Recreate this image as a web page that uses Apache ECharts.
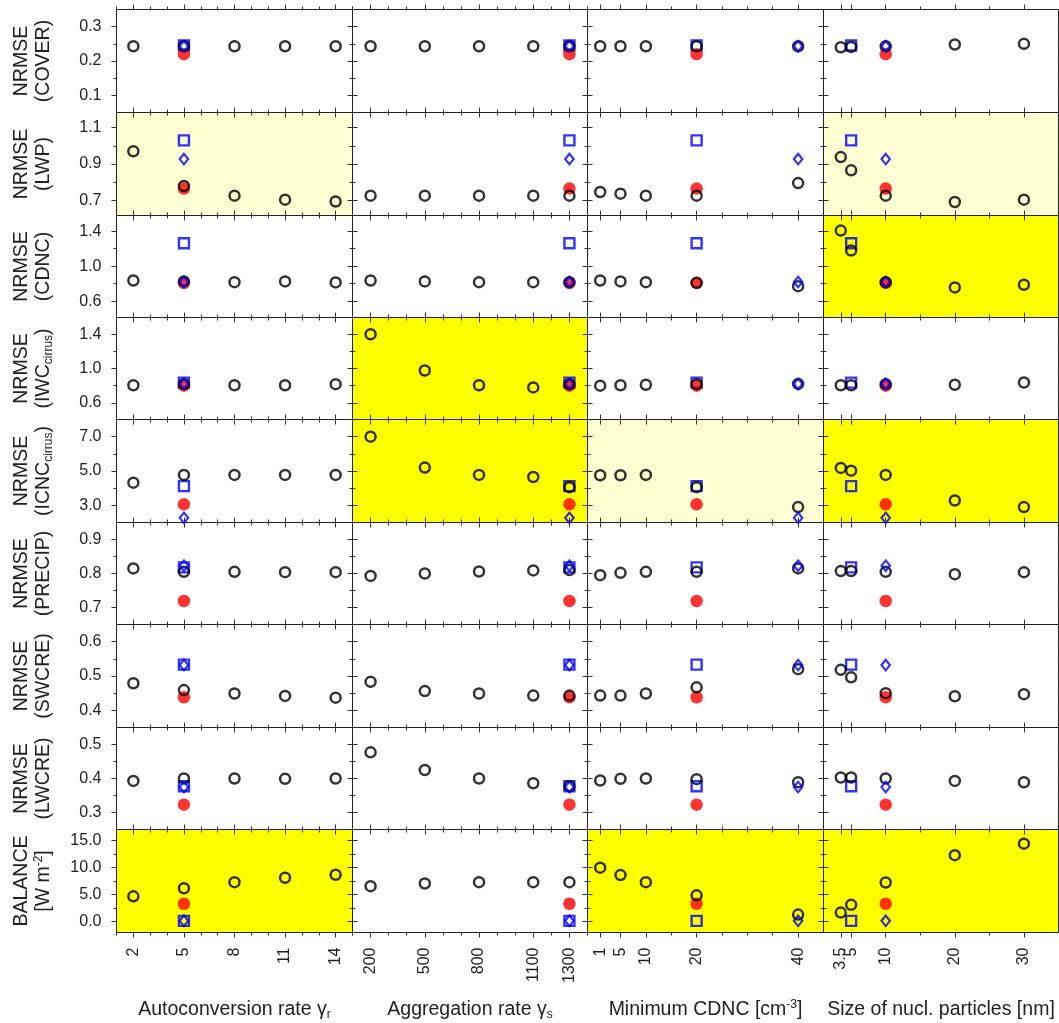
<!DOCTYPE html>
<html><head><meta charset="utf-8">
<script src="https://cdn.jsdelivr.net/npm/echarts@6/dist/echarts.min.js"></script>
<style>html,body{margin:0;padding:0;background:#fff}#c{width:1059px;height:1023px}</style>
</head><body><div id="c"></div>
<script>
const FONT = '"Liberation Sans", Arial, Helvetica, sans-serif';

// parameter values (x) per column
const xAutoconv = [2, 5, 8, 11, 14];
const xAggr = [200, 500, 800, 1100, 1300];
const xCdncMin = [1, 5, 10, 20, 40];
const xNucl = [3.5, 5, 10, 20, 30];

// sensitivity runs (black open circles): [column][point]
const cover = [
  [0.243, 0.243, 0.243, 0.243, 0.243],
  [0.243, 0.243, 0.243, 0.243, 0.243],
  [0.243, 0.243, 0.243, 0.243, 0.243],
  [0.240, 0.241, 0.243, 0.248, 0.250]];
const lwp = [
  [0.970, 0.779, 0.726, 0.704, 0.694],
  [0.726, 0.726, 0.726, 0.726, 0.726],
  [0.746, 0.737, 0.726, 0.726, 0.795],
  [0.938, 0.865, 0.726, 0.691, 0.704]];
const cdnc = [
  [0.837, 0.826, 0.818, 0.826, 0.815],
  [0.837, 0.826, 0.818, 0.818, 0.818],
  [0.837, 0.826, 0.818, 0.810, 0.772],
  [1.406, 1.179, 0.818, 0.758, 0.788]];
const iwc = [
  [0.805, 0.817, 0.805, 0.805, 0.817],
  [1.400, 0.977, 0.805, 0.779, 0.817],
  [0.800, 0.805, 0.810, 0.817, 0.820],
  [0.805, 0.805, 0.817, 0.810, 0.837]];
const icnc = [
  [4.32, 4.77, 4.77, 4.77, 4.77],
  [7.00, 5.20, 4.77, 4.65, 4.06],
  [4.75, 4.75, 4.77, 4.06, 2.90],
  [5.18, 5.02, 4.77, 3.28, 2.90]];
const precip = [
  [0.815, 0.805, 0.805, 0.804, 0.804],
  [0.793, 0.800, 0.806, 0.809, 0.810],
  [0.795, 0.802, 0.805, 0.805, 0.815],
  [0.807, 0.807, 0.805, 0.798, 0.804]];
const swcre = [
  [0.479, 0.459, 0.449, 0.442, 0.437],
  [0.483, 0.456, 0.449, 0.443, 0.443],
  [0.443, 0.443, 0.449, 0.467, 0.520],
  [0.518, 0.496, 0.450, 0.441, 0.447]];
const lwcre = [
  [0.393, 0.400, 0.400, 0.399, 0.400],
  [0.477, 0.425, 0.400, 0.386, 0.377],
  [0.394, 0.399, 0.400, 0.398, 0.389],
  [0.403, 0.403, 0.400, 0.393, 0.389]];
const balance = [
  [4.67, 6.16, 7.29, 8.10, 8.65],
  [6.54, 7.04, 7.29, 7.29, 7.29],
  [9.96, 8.59, 7.29, 4.86, 1.30],
  [1.68, 3.11, 7.23, 12.27, 14.38]];

// reference runs, one value per row (same in every column)
const refRed = [0.220, 0.765, 0.807, 0.800, 3.06, 0.719, 0.438, 0.323, 3.30];
const refSquare = [0.245, 1.030, 1.262, 0.835, 4.12, 0.818, 0.533, 0.377, 0.15];
const refDiamond = [0.243, 0.927, 0.820, 0.820, 2.27, 0.823, 0.532, 0.375, 0.15];
// where the reference runs sit on each column's x axis
const redX = [5, 1300, 20, 10];
const squareX = [5, 1300, 20, 5];
const diamondX = [5, 1300, 40, 10];

// axes
const xRanges = [[1, 15], [100, 1400], [-1.5, 45], [1, 35]];
const xTicks = [xAutoconv, xAggr, xCdncMin, xNucl];
const xTicksMinor = [[1, 3, 4, 6, 7, 9, 10, 12, 13, 15], [100, 300, 400, 600, 700, 900, 1000, 1200, 1400], [15, 25, 30, 35], [15, 25]];
// tick labels: set A on the main axis, set B on the companion axis (labels too close to share one axis)
const xLabelsA = [[2, 5, 8, 11, 14], [200, 500, 800, 1100, 1300], [1, 5, 10, 20, 40], [3.5, 10, 20, 30]];
const xLabelsB = [[], [], [], [5]];
const yRanges = [[0.05, 0.35], [0.617, 1.183], [0.415, 1.578], [0.405, 1.595], [2, 8], [0.65, 0.95], [0.35, 0.65], [0.25, 0.55], [-2, 17]];
const yTicks = [[0.1, 0.2, 0.3], [0.7, 0.9, 1.1], [0.6, 1.0, 1.4], [0.6, 1.0, 1.4], [3, 5, 7], [0.7, 0.8, 0.9], [0.4, 0.5, 0.6], [0.3, 0.4, 0.5], [0, 5, 10, 15]];
const yTicksMinor = [[0.15, 0.25], [0.8, 1.0], [0.8, 1.2], [0.8, 1.2], [4, 6], [0.75, 0.85], [0.45, 0.55], [0.35, 0.45], [2.5, 7.5, 12.5]];

const rowNames = [
  '{t|NRMSE}\n{t|(COVER)}',
  '{t|NRMSE}\n{t|(LWP)}',
  '{t|NRMSE}\n{t|(CDNC)}',
  '{t|NRMSE}\n{t|(IWC}{s|cirrus}{t|)}',
  '{t|NRMSE}\n{t|(ICNC}{s|cirrus}{t|)}',
  '{t|NRMSE}\n{t|(PRECIP)}',
  '{t|NRMSE}\n{t|(SWCRE)}',
  '{t|NRMSE}\n{t|(LWCRE)}',
  '{t|BALANCE}\n{t|[W m}{p|-2}{t|]}'];
const colTitles = [
  '{t|Autoconversion rate γ}{s|r}',
  '{t|Aggregation rate γ}{s|s}',
  '{t|Minimum CDNC [cm}{p|-3}{t|]}',
  '{t|Size of nucl. particles [nm]}'];

const rowValues = [cover, lwp, cdnc, iwc, icnc, precip, swcre, lwcre, balance];

// panel shading
const W = '#ffffff', L = '#ffffd4', Y = '#ffff00';
const panelBg = [
  [W, W, W, W], [L, W, W, L], [W, W, W, Y], [W, Y, W, W], [W, Y, L, Y],
  [W, W, W, W], [W, W, W, W], [W, W, W, W], [Y, W, Y, Y]];

const colL = [116, 352, 587, 823, 1058];
const rowT = [9, 112, 215, 317, 419, 522, 624, 727, 829, 932];

const richT = {
  t: {fontSize: 19.5, lineHeight: 22, color: '#222', fontFamily: FONT},
  s: {fontSize: 12, lineHeight: 10, verticalAlign: 'bottom', color: '#222', fontFamily: FONT},
  p: {fontSize: 12, lineHeight: 10, verticalAlign: 'top', color: '#222', fontFamily: FONT}
};

const grids = [], xAxes = [], yAxes = [], series = [];
const tickColor = '#333';

for (let r = 0; r < 9; r++) {
  for (let c = 0; c < 4; c++) {
    const gi = grids.length;
    grids.push({
      left: colL[c] + 0.5, top: rowT[r] + 0.5,
      width: colL[c + 1] - colL[c], height: rowT[r + 1] - rowT[r],
      show: true, backgroundColor: panelBg[r][c], borderColor: '#222', borderWidth: 1,
      containLabel: false, outerBoundsMode: 'none'
    });
    const mkX = (pos, vals, len, labelVals, name) => ({
      type: 'value', gridIndex: gi, position: pos,
      min: xRanges[c][0], max: xRanges[c][1],
      axisLine: {show: false, onZero: false},
      splitLine: {show: false},
      axisTick: {show: true, inside: false, length: len, customValues: vals, lineStyle: {color: tickColor, width: 1}},
      axisLabel: {show: !!(labelVals && labelVals.length), customValues: (labelVals && labelVals.length) ? labelVals : vals,
        rotate: 90, margin: 15, fontSize: 16, color: '#222', fontFamily: FONT,
        hideOverlap: false, showMinLabel: true, showMaxLabel: true,
        formatter: v => String(v)},
      name: name || '', nameLocation: 'middle', nameGap: 66, nameMoveOverlap: false,
      nameTextStyle: {rich: richT, fontFamily: FONT},
      axisPointer: {show: false}, silent: true
    });
    const mkY = (pos, vals, len, labeled, name) => ({
      type: 'value', gridIndex: gi, position: pos,
      min: yRanges[r][0], max: yRanges[r][1],
      axisLine: {show: false, onZero: false},
      splitLine: {show: false},
      axisTick: {show: true, inside: false, length: len, customValues: vals, lineStyle: {color: tickColor, width: 1}},
      axisLabel: {show: labeled, customValues: vals, margin: 15, fontSize: 16, color: '#222', fontFamily: FONT,
        hideOverlap: false, showMinLabel: true, showMaxLabel: true,
        formatter: v => Number(v).toFixed(1)},
      name: name || '', nameLocation: 'middle', nameRotate: 90, nameGap: 62, nameMoveOverlap: false,
      nameTextStyle: {rich: richT, fontFamily: FONT},
      axisPointer: {show: false}, silent: true
    });
    const bottom = r === 8;
    const xb = xAxes.length;
    xAxes.push(
      mkX('bottom', xTicks[c], 5, bottom ? xLabelsA[c] : null, bottom ? colTitles[c] : ''),
      mkX('bottom', xTicksMinor[c], 3, bottom ? xLabelsB[c] : null),
      mkX('top', xTicks[c], 5, null),
      mkX('top', xTicksMinor[c], 3, null));
    const yb = yAxes.length;
    yAxes.push(
      mkY('left', yTicks[r], 5, c === 0, c === 0 ? rowNames[r] : ''),
      mkY('left', yTicksMinor[r], 3, false),
      mkY('right', yTicks[r], 5, false),
      mkY('right', yTicksMinor[r], 3, false));

    const base = {type: 'scatter', xAxisIndex: xb, yAxisIndex: yb, silent: true, animation: false, emphasis: {disabled: true}};
    series.push(Object.assign({}, base, {
      name: 'square', z: 2, data: [[squareX[c], refSquare[r]]],
      symbol: 'rect', symbolSize: 10,
      itemStyle: {color: 'rgba(0,0,0,0)', borderColor: '#0000ff', borderWidth: 2.4}
    }));
    series.push(Object.assign({}, base, {
      name: 'ref', z: 3, data: [[redX[c], refRed[r]]],
      symbol: 'circle', symbolSize: 12.5,
      itemStyle: {color: '#ff0000'}
    }));
    series.push(Object.assign({}, base, {
      name: 'sens', z: 4, data: xTicks[c].map((x, i) => [x, rowValues[r][c][i]]),
      symbol: 'circle', symbolSize: 10,
      itemStyle: {color: 'rgba(0,0,0,0)', borderColor: '#000', borderWidth: 2.5}
    }));
    series.push(Object.assign({}, base, {
      name: 'diamond', z: 5, data: [[diamondX[c], refDiamond[r]]],
      symbol: 'diamond', symbolSize: [8.5, 10.5],
      itemStyle: {color: 'rgba(0,0,0,0)', borderColor: '#0000ff', borderWidth: 2.2}
    }));
  }
}

const chart = echarts.init(document.getElementById('c'), null, {renderer: 'canvas'});
chart.setOption({
  animation: false,
  backgroundColor: '#fff',
  textStyle: {fontFamily: FONT},
  grid: grids, xAxis: xAxes, yAxis: yAxes, series: series
});
</script></body></html>
